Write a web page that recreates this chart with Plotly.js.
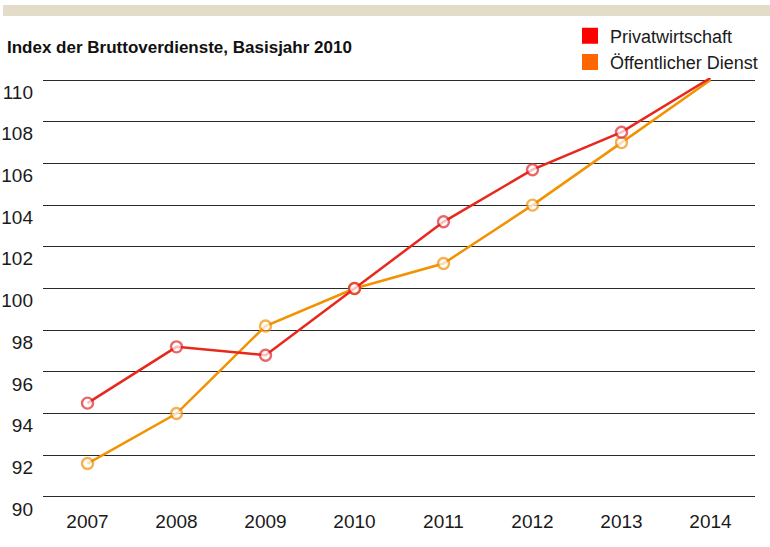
<!DOCTYPE html>
<html>
<head>
<meta charset="utf-8">
<script src="https://cdn.plot.ly/plotly-3.0.1.min.js"></script>
<style>html,body{margin:0;padding:0;background:#fff;}#chart{width:770px;height:547px;}</style>
</head>
<body>
<div id="chart"></div>
<script>
const years = [2007, 2008, 2009, 2010, 2011, 2012, 2013, 2014];
const privatwirtschaft = [94.5, 97.2, 96.8, 100.0, 103.2, 105.7, 107.5, 110.1];
const oeffentlicherDienst = [91.6, 94.0, 98.2, 100.0, 101.2, 104.0, 107.0, 110.0];
const seriesNames = ["Privatwirtschaft", "Öffentlicher Dienst"];
const yTicks = [90, 92, 94, 96, 98, 100, 102, 104, 106, 108, 110];
const titleText = "Index der Bruttoverdienste, Basisjahr 2010";

const FONT = "'Liberation Sans', Arial, sans-serif";
const lineColors = ["#e8281c", "#f39200"];
const markerEdge = ["#e0262a", "#f08f0a"];
const legendColors = ["#ff0000", "#ff6600"];
const sizes = years.map(y => (y === 2014 ? 0 : 11));

function lineTrace(vals, i) {
  return {
    x: years, y: vals, type: "scatter", mode: "lines+markers",
    name: seriesNames[i], showlegend: false, cliponaxis: true,
    line: {color: lineColors[i], width: 2.5},
    marker: {size: sizes, color: "#ffffff", line: {color: markerEdge[i], width: 2.4}},
    hoverinfo: "x+y"
  };
}
function legendTrace(i) {
  return {
    x: [null], y: [null], type: "scatter", mode: "markers",
    name: seriesNames[i], showlegend: true,
    marker: {symbol: "square", size: 16, color: legendColors[i]}
  };
}

const data = [
  lineTrace(oeffentlicherDienst, 1),
  lineTrace(privatwirtschaft, 0),
  legendTrace(0),
  legendTrace(1)
];

// plot area: x 43..755, y 78..499 (range 89.9..110.1)
const PL = 43, PR = 755, PT = 78, PB = 499;
const PW = PR - PL, PH = PB - PT;

const layout = {
  width: 770, height: 547,
  margin: {l: PL, r: 770 - PR, t: PT, b: 547 - PB, autoexpand: false},
  paper_bgcolor: "#ffffff", plot_bgcolor: "#ffffff",
  font: {family: FONT, color: "#1a1a1a", size: 19},
  title: {
    text: "<b>" + titleText + "</b>",
    font: {family: FONT, size: 17, color: "#111111"},
    xref: "container", yref: "container",
    x: 7 / 770, xanchor: "left", y: 1 - 47 / 547, yanchor: "middle"
  },
  xaxis: {
    range: [2006.5, 2014.5], tickvals: years, ticktext: years.map(String),
    showgrid: false, zeroline: false, showline: false, ticks: "",
    tickfont: {family: FONT, size: 19, color: "#1a1a1a"},
    ticklabelstandoff: 9, fixedrange: true
  },
  yaxis: {
    range: [89.9, 110.1], tickvals: yTicks, ticktext: yTicks.map(String),
    showgrid: true, gridcolor: "#2a2a2a", gridwidth: 1,
    zeroline: false, showline: false, ticks: "",
    tickfont: {family: FONT, size: 19, color: "#1a1a1a"},
    ticklabelshift: 12, ticklabelstandoff: 9, fixedrange: true
  },
  legend: {
    x: (570 - PL) / PW, xanchor: "left", xref: "paper",
    y: 1 + (PT - 17.5) / PH, yanchor: "top", yref: "paper",
    bgcolor: "rgba(0,0,0,0)", borderwidth: 0,
    font: {family: FONT, size: 18, color: "#1a1a1a"},
    itemsizing: "trace", tracegroupgap: 0
  },
  shapes: [{
    type: "rect", xref: "paper", yref: "paper",
    x0: (3 - PL) / PW, x1: (770 - PL) / PW,
    y0: (PB - 16) / PH, y1: (PB - 5) / PH,
    fillcolor: "#e3dcc9", line: {width: 0}, layer: "below"
  }]
};

Plotly.newPlot("chart", data, layout, {displayModeBar: false, staticPlot: true});
</script>
</body>
</html>
